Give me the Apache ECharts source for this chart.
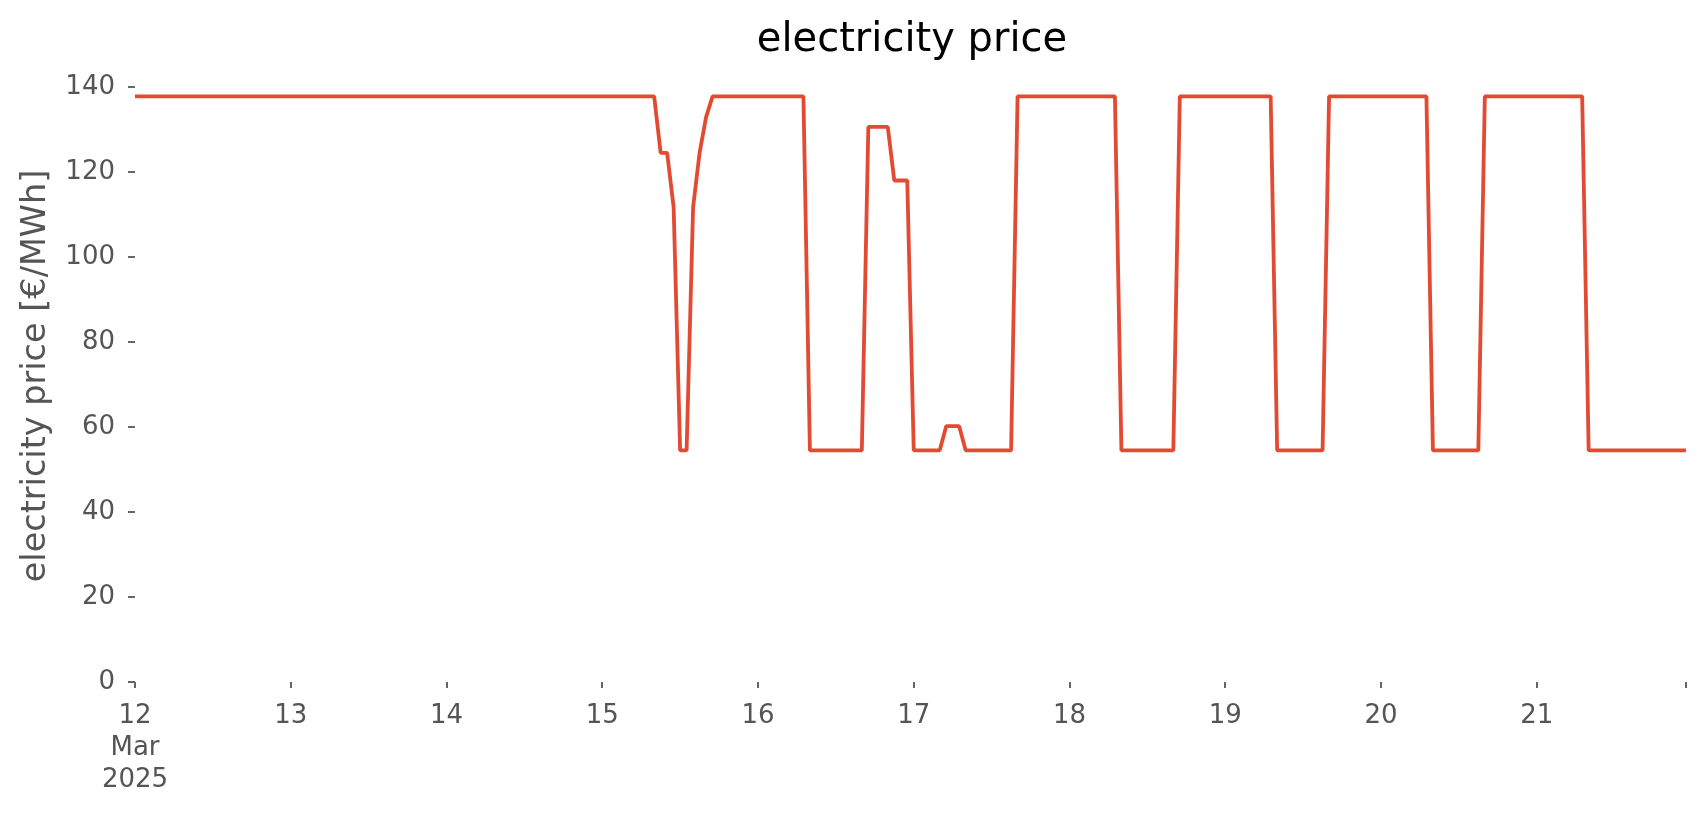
<!DOCTYPE html>
<html><head><meta charset="utf-8">
<script src="https://cdn.jsdelivr.net/npm/echarts@6/dist/echarts.min.js"></script>
<style>html,body{margin:0;padding:0;background:#fff}#c{width:1706px;height:815px}</style>
</head><body><div id="c"></div>
<script>
// hours after 12 Mar 2025 00:00 at which the price changes (hourly data, last point 21 Mar 23:00)
const hours  = [0, 80, 81, 82, 83, 84, 85, 86, 87, 88, 89, 103, 104, 112, 113, 116, 117, 119, 120, 124, 125, 127, 128, 135, 136, 151, 152, 160, 161, 175, 176, 183, 184, 199, 200, 207, 208, 223, 224, 239];
const prices = [137.8, 137.8, 124.5, 124.5, 111.7, 54.5, 54.5, 111.7, 124.5, 132.9, 137.8, 137.8, 54.5, 54.5, 130.6, 130.6, 118.0, 118.0, 54.5, 54.5, 60.2, 60.2, 54.5, 54.5, 137.8, 137.8, 54.5, 54.5, 137.8, 137.8, 54.5, 54.5, 137.8, 137.8, 54.5, 54.5, 137.8, 137.8, 54.5, 54.5];
const dayLabels = ['12\nMar\n2025', '13', '14', '15', '16', '17', '18', '19', '20', '21'];
const yTicks = [0, 20, 40, 60, 80, 100, 120, 140];

const chart = echarts.init(document.getElementById('c'), null, {renderer: 'canvas'});
const font = 'DejaVu Sans';
chart.setOption({
  animation: false,
  backgroundColor: '#ffffff',
  title: {
    text: 'electricity price', left: 907, textAlign: 'center', top: 16,
    textStyle: {fontFamily: font, fontSize: 40, fontWeight: 'normal', color: '#000000'}
  },
  grid: {left: 135, right: 20, top: 87, bottom: 133},
  xAxis: {
    type: 'value', min: 0, max: 239, interval: 24,
    axisLine: {show: false},
    axisTick: {show: true, length: 6, lineStyle: {color: '#555555', width: 1.8}},
    splitLine: {show: false},
    axisLabel: {
      formatter: v => (v % 24 === 0 ? dayLabels[v / 24] : ''),
      fontFamily: font, fontSize: 26, color: '#555555', lineHeight: 32, margin: 18,
      showMaxLabel: true, showMinLabel: true
    }
  },
  yAxis: {
    type: 'value', min: yTicks[0], max: yTicks[yTicks.length - 1], interval: 20,
    name: 'electricity price [€/MWh]', nameLocation: 'middle', nameGap: 82,
    nameTextStyle: {fontFamily: font, fontSize: 33.5, color: '#555555', padding: [0, 0, 0, 17]},
    axisLine: {show: false},
    axisTick: {show: true, length: 7, lineStyle: {color: '#555555', width: 1.8}},
    splitLine: {show: false},
    axisLabel: {fontFamily: font, fontSize: 26, color: '#555555', margin: 20}
  },
  series: [{
    type: 'line', data: hours.map((h, i) => [h, prices[i]]), showSymbol: false, clip: false,
    lineStyle: {color: '#E24A33', width: 3.8}
  }]
});
</script></body></html>
